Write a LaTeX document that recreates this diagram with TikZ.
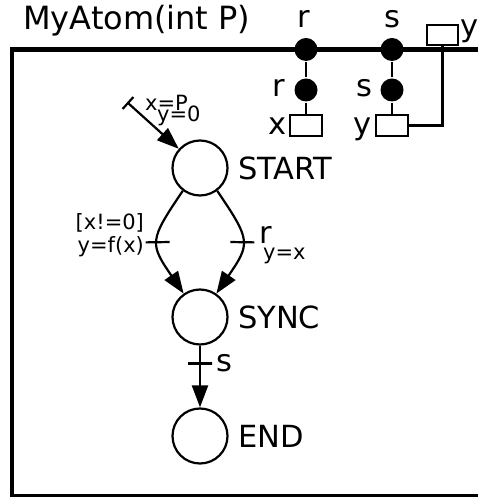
\documentclass[tikz,border=0pt]{standalone}
\usepackage{fontspec}
\setmainfont{DejaVu Sans}
\usetikzlibrary{arrows.meta}

\begin{document}
\begin{tikzpicture}[x=1pt, y=1pt, line width=2.2pt, node distance=40pt,
    state/.style={circle, draw, minimum size=55pt, inner sep=0pt},
    port/.style={circle, fill, minimum size=23pt, inner sep=0pt},
    var/.style={rectangle, draw, minimum width=32pt, minimum height=21pt, inner sep=0pt},
    big/.style={font=\fontsize{30.5}{36}\selectfont, inner sep=0pt},
    small/.style={font=\fontsize{21}{25}\selectfont, inner sep=0pt},
    trans/.style={-{Triangle[length=22pt,width=16pt]}},
    tick/.style={sloped, draw, rectangle, minimum width=0pt, minimum height=24pt, inner sep=0pt}]

    \useasboundingbox (0,0) rectangle (478,497);
    \clip (0,0) rectangle (478,497);

    % atom frame and name
    \draw[line width=4.8pt] (12,1) rectangle (490,447.5);
    \node[big, font=\fontsize{32}{38}\selectfont, anchor=base west] (TITLE) at (22,467) {MyAtom(int P)};

    % ports and exported variable
    \node[port] (RT) at (306,447.5) {};
    \node[port] (ST) at (392,447.5) {};
    \node[var, minimum width=31pt, minimum height=20pt] (YT) at (442.5,462) {};
    \node[port, below of=RT, node distance=40.5pt] (RI) {};
    \node[port, below of=ST, node distance=40.5pt] (SI) {};
    \node[var, below of=RI, node distance=35.5pt] (XV) {};
    \node[var, below of=SI, node distance=35.5pt] (YV) {};

    \draw (RT) -- (RI) -- (XV);
    \draw (ST) -- (SI) -- (YV);
    \draw (YT.south) |- (YV.east);

    \node[big, anchor=base] (RTL) at (304,469) {r};
    \node[big, anchor=base] (STL) at (392,469) {s};
    \node[big, anchor=base west] (YTL) at (459.5,460) {y};
    \node[big, anchor=base] (RIL) at (279,400) {r};
    \node[big, anchor=base] (SIL) at (364.5,400) {s};
    \node[big, anchor=base east] (XVL) at (288,362) {x};
    \node[big, anchor=base east] (YVL) at (373,362) {y};

    % behaviour
    \node[state] (START) at (200,329) {};
    \node[state, below of=START, node distance=149pt] (SYNC) {};
    \node[state, below of=SYNC, node distance=119pt] (END) {};
    \node[big, anchor=west] (STARTL) at (237,329) {START};
    \node[big, anchor=west] (SYNCL) at (237,180) {SYNC};
    \node[big, anchor=west] (ENDL) at (237,61) {END};

    % initial transition
    \coordinate (INIT) at (128,394);
    \draw[trans] (INIT) -- (START) node[tick, pos=0, minimum height=16pt] (TI) {};
    \node[small, anchor=base west] (INITX) at (144,386.5) {x=P};
    \node[small, anchor=base west] (INITY) at (156,375) {y=0};

    % transitions
    \draw[trans] (START.233) .. controls +(-34,-50) and +(-34,50) .. (SYNC.125)
        node[tick, pos=0.5] (TL) {};
    \draw[trans] (START.307) .. controls +(34,-50) and +(34,50) .. (SYNC.55)
        node[tick, pos=0.5] (TR) {};
    \draw[trans] (SYNC) -- (END) node[tick, pos=0.29] (TS) {};

    \node[small, anchor=base east] (G1) at (145,267) {[x!=0]};
    \node[small, anchor=base east] (A1) at (145,244) {y=f(x)};
    \node[big, anchor=base west] (RL) at (258,253) {r};
    \node[small, anchor=base west] (A2) at (262,237) {y=x};
    \node[big, anchor=base west] (SL) at (215,125) {s};
\end{tikzpicture}
\end{document}
